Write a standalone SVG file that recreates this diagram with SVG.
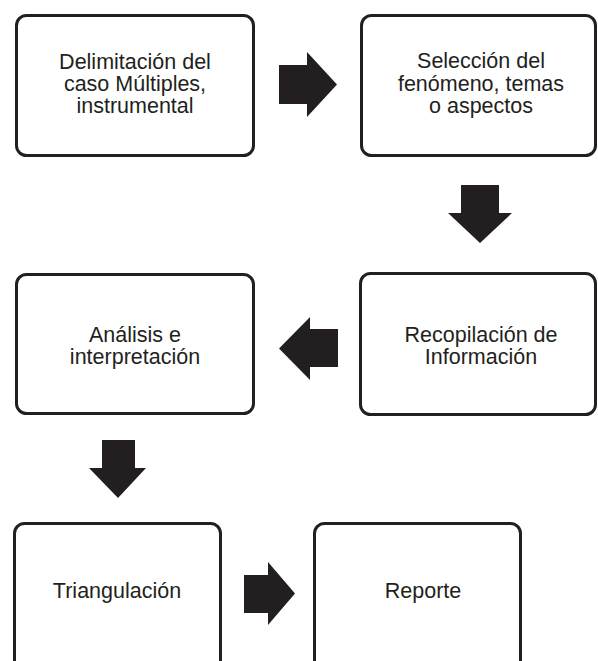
<svg xmlns="http://www.w3.org/2000/svg" width="598" height="661" viewBox="0 0 598 661">
<style>
.box{fill:#ffffff;stroke:#231f20;stroke-width:3}
.lbl{font-family:"Liberation Sans",Arial,sans-serif;font-size:21.5px;fill:#231f20;text-anchor:middle}
.arr{fill:#231f20}
</style>
<rect width="598" height="661" fill="#ffffff"/>
<g id="connectors">
<polygon class="arr" points="279,65 307,65 307,52 337,84.5 307,117 307,104 279,104"/>
<polygon class="arr" points="461,185 499,185 499,213 512,213 480,243 448,213 461,213"/>
<polygon class="arr" points="338,329 310,329 310,317 279,348.5 310,380 310,367 338,367"/>
<polygon class="arr" points="102,440 135,440 135,468 146,468 118,498 89,468 102,468"/>
<polygon class="arr" points="244,575 268,575 268,562 295,593.5 268,625 268,613 244,613"/>
</g>
<g id="n1">
<rect class="box" x="16.5" y="15.5" width="237" height="140" rx="10"/>
<text class="lbl" x="135" y="69">Delimitación del</text>
<text class="lbl" x="135" y="91">caso Múltiples,</text>
<text class="lbl" x="135" y="113">instrumental</text>
</g>
<g id="n2">
<rect class="box" x="361.5" y="15.5" width="234" height="140" rx="10"/>
<text class="lbl" x="481" y="68">Selección del</text>
<text class="lbl" x="481" y="90.5">fenómeno, temas</text>
<text class="lbl" x="481" y="113">o aspectos</text>
</g>
<g id="n3">
<rect class="box" x="360.5" y="273.5" width="235" height="141" rx="10"/>
<text class="lbl" x="481" y="342">Recopilación de</text>
<text class="lbl" x="481" y="364">Información</text>
</g>
<g id="n4">
<rect class="box" x="16.5" y="274.5" width="237" height="139" rx="10"/>
<text class="lbl" x="135" y="342">Análisis e</text>
<text class="lbl" x="135" y="364">interpretación</text>
</g>
<g id="n5">
<rect class="box" x="14.5" y="523.5" width="206" height="150" rx="10"/>
<text class="lbl" x="117" y="598">Triangulación</text>
</g>
<g id="n6">
<rect class="box" x="314.5" y="523.5" width="206" height="150" rx="10"/>
<text class="lbl" x="423" y="598">Reporte</text>
</g>
</svg>
